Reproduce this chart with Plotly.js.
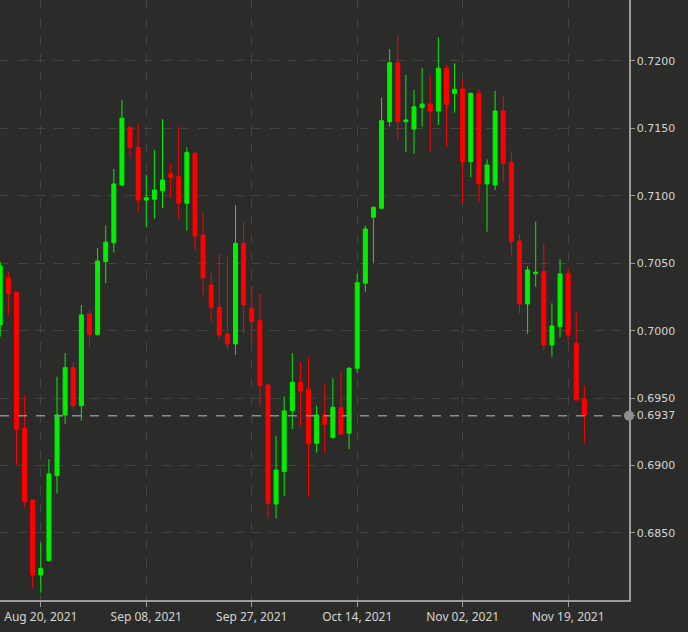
<!DOCTYPE html>
<html>
<head>
<meta charset="utf-8">
<script src="https://cdn.plot.ly/plotly-3.0.1.min.js"></script>
<style>html,body{margin:0;padding:0;background:#2b2c2a;}#chart{width:688px;height:632px;}</style>
</head>
<body>
<div id="chart"></div>
<script>
const dates = [
  "2021-08-13","2021-08-16","2021-08-17","2021-08-18","2021-08-19","2021-08-20",
  "2021-08-23","2021-08-24","2021-08-25","2021-08-26","2021-08-27",
  "2021-08-30","2021-08-31","2021-09-01","2021-09-02","2021-09-03",
  "2021-09-06","2021-09-07","2021-09-08","2021-09-09","2021-09-10",
  "2021-09-13","2021-09-14","2021-09-15","2021-09-16","2021-09-17",
  "2021-09-20","2021-09-21","2021-09-22","2021-09-23","2021-09-24",
  "2021-09-27","2021-09-28","2021-09-29","2021-09-30","2021-10-01",
  "2021-10-04","2021-10-05","2021-10-06","2021-10-07","2021-10-08",
  "2021-10-11","2021-10-12","2021-10-13","2021-10-14","2021-10-15",
  "2021-10-18","2021-10-19","2021-10-20","2021-10-21","2021-10-22",
  "2021-10-25","2021-10-26","2021-10-27","2021-10-28","2021-10-29",
  "2021-11-01","2021-11-02","2021-11-03","2021-11-04","2021-11-05",
  "2021-11-08","2021-11-09","2021-11-10","2021-11-11","2021-11-12",
  "2021-11-15","2021-11-16","2021-11-17","2021-11-18","2021-11-19",
  "2021-11-22","2021-11-23"
];
const openP = [
  0.70042,0.70396,0.70285,0.69276,0.68745,0.68189,
  0.68295,0.68925,0.69375,0.69726,0.69444,
  0.70124,0.69973,0.70512,0.70653,0.71081,
  0.71508,0.71360,0.70969,0.70975,0.71038,
  0.71162,0.71142,0.70945,0.71316,0.70710,
  0.70339,0.70174,0.69976,0.69902,0.70648,
  0.70166,0.70074,0.69598,0.68715,0.68955,
  0.69407,0.69618,0.69566,0.69165,0.69375,
  0.69207,0.69429,0.69239,0.69721,0.70352,
  0.70841,0.70908,0.71550,0.71987,0.71550,
  0.71496,0.71654,0.71681,0.71629,0.71946,
  0.71760,0.71792,0.71253,0.71760,0.71088,
  0.71081,0.71629,0.71246,0.70665,0.70198,
  0.70423,0.70438,0.69894,0.70030,0.70421,
  0.69907,0.69494
];
const highP = [
  0.70510,0.70438,0.70290,0.69518,0.68750,0.68428,
  0.69047,0.69659,0.69833,0.69766,0.70191,
  0.70154,0.70613,0.70779,0.71199,0.71711,
  0.71518,0.71533,0.71155,0.71340,0.71568,
  0.71236,0.71513,0.71360,0.71330,0.70875,
  0.70426,0.70569,0.70561,0.70932,0.70808,
  0.70332,0.70272,0.69610,0.69219,0.69511,
  0.69833,0.69766,0.69803,0.69442,0.69605,
  0.69647,0.69701,0.69730,0.70421,0.70777,
  0.70920,0.71728,0.72087,0.72193,0.71896,
  0.71785,0.71946,0.71891,0.72176,0.71970,
  0.71983,0.71864,0.71765,0.71790,0.71271,
  0.71778,0.71740,0.71327,0.70717,0.70480,
  0.70808,0.70643,0.70203,0.70530,0.70463,
  0.70137,0.69592
];
const lowP = [
  0.69956,0.70117,0.69004,0.68695,0.68090,0.68057,
  0.68290,0.68794,0.69306,0.69417,0.69333,
  0.69874,0.69965,0.70352,0.70579,0.71068,
  0.71283,0.70875,0.70767,0.70831,0.70908,
  0.70982,0.70834,0.70742,0.70599,0.70265,
  0.70067,0.69936,0.69864,0.69820,0.69976,
  0.69911,0.69437,0.68609,0.68609,0.68774,
  0.69269,0.69288,0.68769,0.69096,0.69090,
  0.69200,0.69228,0.69121,0.69689,0.70289,
  0.70500,0.70900,0.71513,0.71419,0.71323,
  0.71310,0.71513,0.71327,0.71525,0.71365,
  0.71617,0.70940,0.71138,0.70957,0.70734,
  0.71043,0.71105,0.70561,0.70129,0.69976,
  0.70326,0.69852,0.69807,0.69951,0.69919,
  0.69480,0.69165
];
const closeP = [
  0.70480,0.70277,0.69271,0.68732,0.68189,0.68238,
  0.68938,0.69375,0.69726,0.69444,0.70117,
  0.69973,0.70517,0.70656,0.71088,0.71575,
  0.71360,0.70969,0.70986,0.71043,0.71118,
  0.71138,0.70945,0.71320,0.70702,0.70393,
  0.70174,0.69968,0.69902,0.70648,0.70191,
  0.70067,0.69592,0.68720,0.68967,0.69405,
  0.69618,0.69555,0.69165,0.69375,0.69306,
  0.69432,0.69232,0.69721,0.70356,0.70754,
  0.70915,0.71557,0.71987,0.71550,0.71563,
  0.71661,0.71681,0.71629,0.71946,0.71679,
  0.71790,0.71253,0.71760,0.71088,0.71229,
  0.71629,0.71241,0.70660,0.70198,0.70450,
  0.70433,0.69894,0.70035,0.70421,0.69968,
  0.69486,0.69370
];
const xTickDates = ["2021-08-20","2021-09-08","2021-09-27","2021-10-14","2021-11-02","2021-11-19"];
const xTickLabels = ["Aug 20, 2021","Sep 08, 2021","Sep 27, 2021","Oct 14, 2021","Nov 02, 2021","Nov 19, 2021"];
const yTickVals = [0.6850,0.6900,0.6937,0.6950,0.7000,0.7050,0.7100,0.7150,0.7200];
const yTickLabels = ["0.6850","0.6900","0.6937","0.6950","0.7000","0.7050","0.7100","0.7150","0.7200"];
const lastPrice = 0.6937;

const bg = '#2b2c2a';
const gridC = '#434441';
const axisC = '#9c9c9c';

const trace = {
  type: 'candlestick',
  x: dates, open: openP, high: highP, low: lowP, close: closeP,
  increasing: {line: {color: '#00f000', width: 1}, fillcolor: '#00f000'},
  decreasing: {line: {color: '#ff0000', width: 1}, fillcolor: '#ff0000'},
  whiskerwidth: 0,
  hoverinfo: 'skip',
  showlegend: false
};

const layout = {
  width: 688, height: 632,
  paper_bgcolor: bg, plot_bgcolor: bg,
  margin: {l: 0, r: 59, t: 0, b: 32, pad: 0},
  showlegend: false,
  xaxis: {
    type: 'category',
    range: [-0.03, 77.5],
    tickmode: 'array', tickvals: xTickDates, ticktext: xTickLabels,
    showgrid: true, gridcolor: gridC, griddash: 'dash', gridwidth: 1,
    showline: true, linecolor: axisC, linewidth: 1.5,
    ticks: 'outside', ticklen: 5, tickcolor: axisC, tickwidth: 1,
    tickfont: {family: 'Noto Sans, sans-serif', size: 12, color: '#d4d4d4'},
    rangeslider: {visible: false},
    zeroline: false, fixedrange: true
  },
  yaxis: {
    side: 'right',
    range: [0.68003, 0.72452],
    tickmode: 'array', tickvals: yTickVals, ticktext: yTickLabels,
    showgrid: true, gridcolor: gridC, griddash: 'dash', gridwidth: 1,
    showline: true, linecolor: axisC, linewidth: 1.5,
    ticks: 'outside', ticklen: 4, tickcolor: axisC,
    tickfont: {family: 'DejaVu Sans, sans-serif', size: 11, color: '#d4d4d4'},
    zeroline: false, fixedrange: true
  },
  shapes: [
    {type: 'line', xref: 'paper', x0: 0, x1: 1, yref: 'y', y0: lastPrice, y1: lastPrice,
     line: {color: '#8e8e8e', width: 1.5, dash: 'dash'}, layer: 'above'},
    {type: 'circle', xref: 'paper', yref: 'y', xsizemode: 'pixel', ysizemode: 'pixel',
     xanchor: 1, yanchor: lastPrice, x0: -5, x1: 5, y0: -5, y1: 5,
     fillcolor: '#8e8e8e', line: {width: 0}, layer: 'above'}
  ]
};

Plotly.newPlot('chart', [trace], layout, {displayModeBar: false, staticPlot: true});
</script>
</body>
</html>
